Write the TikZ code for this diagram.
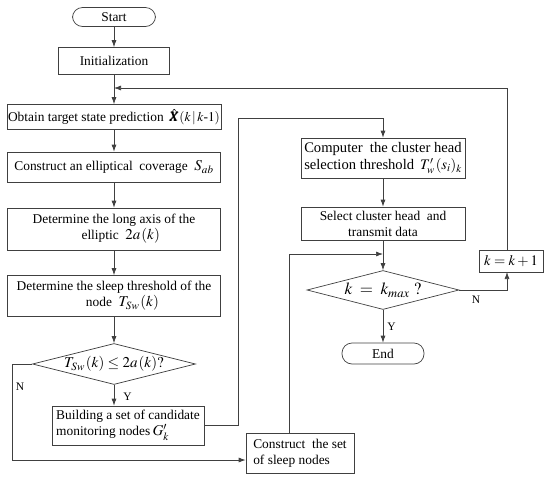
\documentclass[tikz,border=0pt]{standalone}
\usepackage{amsmath}
\usepackage{mathptmx}
\usepackage{bm}
\usepackage{fontspec}
\setmainfont{Liberation Serif}
\usetikzlibrary{shapes.geometric, arrows.meta}
\begin{document}
\begin{tikzpicture}[x=1pt,y=-1pt, font=\fontsize{13.4}{16}\selectfont,
  line/.style={draw=black!75, line width=0.7pt},
  arr/.style={line, -{Latex[length=7pt,width=5pt]}},
  box/.style={line, rectangle, inner sep=1pt, align=center},
  lbox/.style={line, rectangle, inner sep=2pt, align=left},
  term/.style={line, rectangle, rounded corners=10pt},
  dia/.style={line, diamond, inner sep=0pt},
  lbl/.style={font=\fontsize{11.5}{13}\selectfont, inner sep=1pt}]
\useasboundingbox (0,0) rectangle (550,483);

\node[term, minimum width=83pt, minimum height=19pt] (start) at (114,17) {Start};
\node[box, minimum width=213pt, minimum height=27pt, minimum width=111pt] (init) at (114,61) {Initialization};
\node[box, minimum width=213pt, minimum height=25pt] (obt) at (114,117) {Obtain target state prediction\ \,$\hat{\bm{X}}(k\,|\,k\text{-}1)$};
\node[box, minimum width=213pt, minimum height=30pt] (ell) at (114,167) {Construct an elliptical\ \ coverage\ \ {\fontsize{15}{16}\selectfont$S_{ab}$}};
\node[box, minimum width=213pt, minimum height=42pt] (lax) at (114,229) {Determine the long axis of the\\ \quad elliptic\ \ {\fontsize{15}{16}\selectfont$2a\mkern1mu(k)$}};
\node[box, minimum width=213pt, minimum height=41pt] (slp) at (114,296) {Determine the sleep threshold of the\\ \quad\ node\ \ {\fontsize{15}{16}\selectfont$T_{Sw}\mkern1mu(k)$}};
\node[dia, minimum width=163pt, minimum height=41pt] (d1) at (114,364) {};
\node[font=\fontsize{15}{16}\selectfont] (d1t) at (d1.center) {$T_{Sw}\mkern1mu(k)\le 2a\mkern1mu(k)?$};
\node[lbox, minimum width=152pt, minimum height=39pt] (bld) at (128,425.5) {Building a set of candidate\\monitoring nodes\,{\fontsize{15}{16}\selectfont$G'_k$}};
\node[lbox, minimum width=108pt, minimum height=40pt] (cs) at (300,453) {Construct\ \ the set\\of sleep nodes};
\node[lbox, minimum width=164pt, minimum height=40pt, font=\fontsize{14.6}{17}\selectfont] (cmp) at (383,158) {Computer\ \ the cluster head\\selection threshold\ \,$T'_w\mkern1mu(s_i)_k$};
\node[box, minimum width=164pt, minimum height=33pt] (sel) at (383,223.5) {Select cluster head\ \ and\\transmit data};
\node[dia, minimum width=152pt, minimum height=39pt] (d2) at (383,290) {};
\node[font=\fontsize{17}{18}\selectfont] (d2t) at (d2.center) {$k\;=\;k_{max}\ ?$};
\node[term, minimum width=82pt, minimum height=21pt] (end) at (383,353.5) {End};
\node[box, minimum width=64pt, minimum height=22pt, font=\fontsize{14.5}{16}\selectfont] (kb) at (511,261) {$k=k+1$};

\coordinate (lp) at (114,88);
\coordinate (nl) at (12,460);
\coordinate (bc) at (238,118);
\coordinate (m2) at (383,254);
\coordinate (kx) at (507,272);

\draw[arr] (start) -- (init);
\draw[arr] (init) -- (obt);
\draw[arr] (obt) -- (ell);
\draw[arr] (ell) -- (lax);
\draw[arr] (lax) -- (slp);
\draw[arr] (slp) -- (d1);
\draw[arr] (d1) -- (d1.south |- bld.north) node[lbl, pos=0.55, right=8pt] {Y};
\draw[arr] (d1.west) -| (nl) -- (nl -| cs.west);
\node[lbl] (nlab) at (20,387) {N};
\draw[arr] (bld.east) -| (bc) -| (cmp.north);
\draw[arr] (cmp) -- (sel);
\draw[arr] (sel) -- (d2);
\draw[arr] ([xshift=-11pt]cs.north) |- (m2);
\draw[arr] (d2) -- (end) node[lbl, midway, right=3pt] {Y};
\draw[arr] (d2.east) -| (kx);
\node[lbl] (n2lab) at (476,300) {N};
\draw[arr] (kx |- kb.north) |- (lp);
\end{tikzpicture}
\end{document}
